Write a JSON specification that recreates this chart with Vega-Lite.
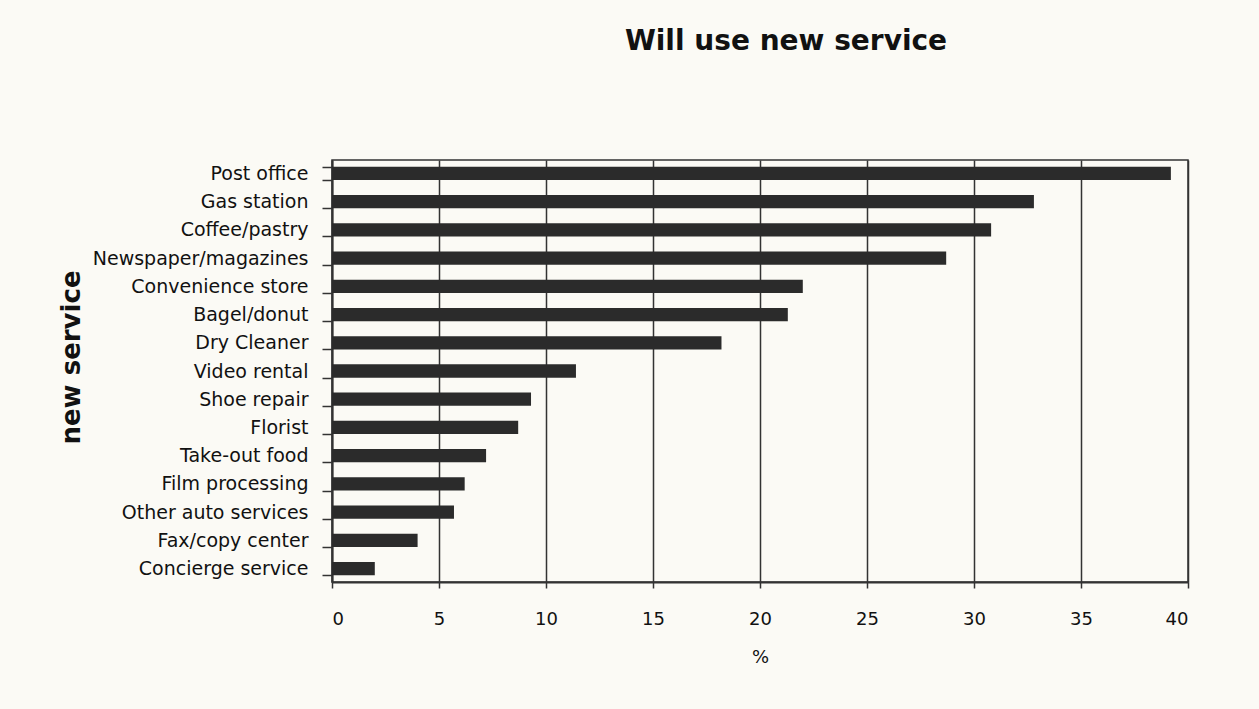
{
  "$schema": "https://vega.github.io/schema/vega-lite/v6.json",
  "width": 856,
  "height": 422,
  "autosize": {"type": "none"},
  "padding": {"left": 332, "top": 160, "right": 71, "bottom": 127},
  "background": "#fbfaf5",
  "title": {
    "text": "Will use new service",
    "font": "DejaVu Sans",
    "fontSize": 28,
    "fontWeight": "bold",
    "color": "#111111",
    "anchor": "middle",
    "dx": 26,
    "offset": 95
  },
  "data": {
    "values": [
      {"service": "Post office", "pct": 39.2},
      {"service": "Gas station", "pct": 32.8},
      {"service": "Coffee/pastry", "pct": 30.8},
      {"service": "Newspaper/magazines", "pct": 28.7},
      {"service": "Convenience store", "pct": 22.0},
      {"service": "Bagel/donut", "pct": 21.3},
      {"service": "Dry Cleaner", "pct": 18.2},
      {"service": "Video rental", "pct": 11.4},
      {"service": "Shoe repair", "pct": 9.3},
      {"service": "Florist", "pct": 8.7},
      {"service": "Take-out food", "pct": 7.2},
      {"service": "Film processing", "pct": 6.2},
      {"service": "Other auto services", "pct": 5.7},
      {"service": "Fax/copy center", "pct": 4.0},
      {"service": "Concierge service", "pct": 2.0}
    ]
  },
  "mark": {"type": "bar", "color": "#2b2b2b"},
  "encoding": {
    "y": {
      "field": "service",
      "type": "nominal",
      "sort": null,
      "scale": {"paddingInner": 0.53, "paddingOuter": 0.24},
      "axis": {
        "title": "new service",
        "titleFont": "DejaVu Sans",
        "titleFontSize": 26,
        "titleFontWeight": "bold",
        "titleColor": "#111111",
        "titlePadding": 48,
        "titleY": 197,
        "labelFont": "DejaVu Sans",
        "labelFontSize": 19,
        "labelColor": "#111111",
        "labelPadding": 14,
        "labelLimit": 0,
        "tickBand": "extent",
        "tickSize": 10,
        "tickColor": "#333333",
        "tickWidth": 1.5,
        "domainColor": "#333333",
        "domainWidth": 2,
        "grid": false
      }
    },
    "x": {
      "field": "pct",
      "type": "quantitative",
      "scale": {"domain": [0, 40], "nice": false},
      "axis": {
        "title": "%",
        "titleFont": "DejaVu Sans",
        "titleFontSize": 18,
        "titleFontWeight": "normal",
        "titleColor": "#111111",
        "titlePadding": 20,
        "values": [0, 5, 10, 15, 20, 25, 30, 35, 40],
        "labelFont": "DejaVu Sans",
        "labelFontSize": 18,
        "labelColor": "#111111",
        "labelPadding": 22,
        "tickSize": 6,
        "tickColor": "#333333",
        "tickWidth": 1.5,
        "domainColor": "#333333",
        "domainWidth": 2,
        "grid": true,
        "gridColor": "#333333",
        "gridWidth": 1.5,
        "gridOpacity": 1
      }
    }
  },
  "config": {
    "view": {"stroke": "#333333", "strokeWidth": 1.5}
  }
}
